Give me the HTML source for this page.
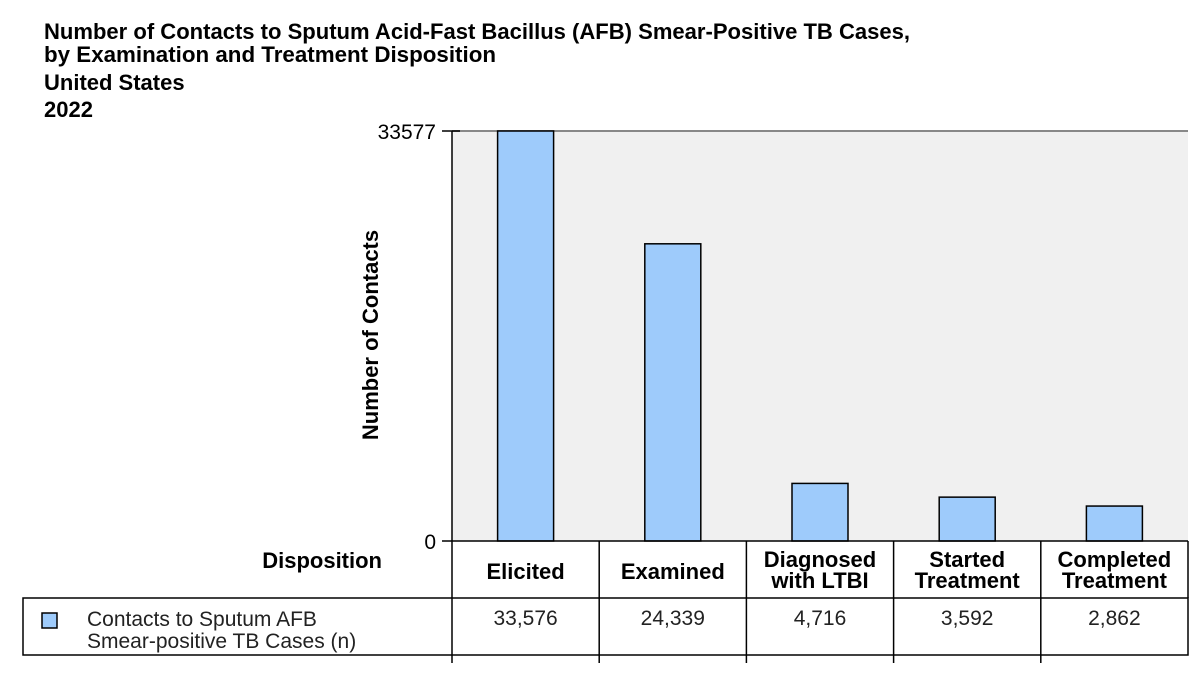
<!DOCTYPE html>
<html><head><meta charset="utf-8"><style>
body{margin:0;background:#fff;font-family:"Liberation Sans",sans-serif;}
svg text{font-family:"Liberation Sans",sans-serif;}
</style></head><body>
<svg width="1200" height="675" viewBox="0 0 1200 675">
<g font-weight="bold" font-size="22" fill="#000">
<text x="44" y="39" textLength="866" lengthAdjust="spacingAndGlyphs">Number of Contacts to Sputum Acid-Fast Bacillus (AFB) Smear-Positive TB Cases,</text>
<text x="44" y="62" textLength="452" lengthAdjust="spacingAndGlyphs">by Examination and Treatment Disposition</text>
<text x="44" y="90">United States</text>
<text x="44" y="117">2022</text>
</g>
<rect x="452" y="131" width="736" height="410" fill="#f0f0f0"/>
<line x1="452" y1="131" x2="1188" y2="131" stroke="#888" stroke-width="2"/>
<g id="bars"></g>
<line x1="452" y1="131" x2="452" y2="663" stroke="#000" stroke-width="1.5"/>
<line x1="442" y1="131" x2="460" y2="131" stroke="#000" stroke-width="1.5"/>
<line x1="442" y1="541" x2="452" y2="541" stroke="#000" stroke-width="1.5"/>
<text x="436" y="139" text-anchor="end" font-size="21">33577</text>
<text x="436" y="549" text-anchor="end" font-size="21">0</text>
<text transform="translate(378,335) rotate(-90)" text-anchor="middle" font-size="22" font-weight="bold">Number of Contacts</text>
<text x="382" y="568" text-anchor="end" font-size="22" font-weight="bold">Disposition</text>
<g id="table">
<line x1="452" y1="541" x2="1188" y2="541" stroke="#000" stroke-width="1.5"/>
<rect x="23" y="598" width="1165" height="57" fill="none" stroke="#000" stroke-width="1.5"/>
<line x1="1188" y1="541" x2="1188" y2="598" stroke="#000" stroke-width="1.5"/>
<rect x="42" y="613" width="15" height="15" fill="#9ecbfb" stroke="#000" stroke-width="1.5"/>
<text x="87" y="626" font-size="21" fill="#222">Contacts to Sputum AFB</text>
<text x="87" y="648" font-size="21" fill="#222">Smear-positive TB Cases (n)</text>
</g>
</svg>
<script>
const categories=["Elicited","Examined","Diagnosed with LTBI","Started Treatment","Completed Treatment"];
const catLines=[["Elicited"],["Examined"],["Diagnosed","with LTBI"],["Started","Treatment"],["Completed","Treatment"]];
const values=[33576,24339,4716,3592,2862];
const valueLabels=["33,576","24,339","4,716","3,592","2,862"];
const yMax=33577;
const NS="http://www.w3.org/2000/svg";
const x0=452,x1=1188,y0=541,yT=131;
const bw=(x1-x0)/categories.length;
function yScale(v){return y0-(v/yMax)*(y0-yT);}
function xCenter(i){return x0+bw*(i+0.5);}
const g=document.getElementById('bars');
const t=document.getElementById('table');
values.forEach((v,i)=>{
  const r=document.createElementNS(NS,'rect');
  
  
  r.setAttribute('x',xCenter(i)-28);r.setAttribute('width',56);
  r.setAttribute('y',yScale(v));r.setAttribute('height',y0-yScale(v));
  r.setAttribute('fill','#9ecbfb');r.setAttribute('stroke','#000');r.setAttribute('stroke-width','1.5');
  g.appendChild(r);
  if(i>0){const l=document.createElementNS(NS,'line');
    
    
    l.setAttribute('x1',x0+bw*i);l.setAttribute('x2',x0+bw*i);l.setAttribute('y1',541);l.setAttribute('y2',663);
    l.setAttribute('stroke','#000');l.setAttribute('stroke-width','1.5');t.appendChild(l);}
  const lines=catLines[i];
  lines.forEach((s,j)=>{
    const tx=document.createElementNS(NS,'text');
    
    
    tx.setAttribute('x',xCenter(i));
    tx.setAttribute('y',lines.length==1?579:567+j*21);
    tx.setAttribute('text-anchor','middle');tx.setAttribute('font-size','22');tx.setAttribute('font-weight','bold');
    tx.textContent=s;t.appendChild(tx);
  });
  const vt=document.createElementNS(NS,'text');
  
  
  vt.setAttribute('x',xCenter(i));vt.setAttribute('y',625);
  vt.setAttribute('text-anchor','middle');vt.setAttribute('font-size','21');vt.setAttribute('fill','#222');
  vt.textContent=valueLabels[i];t.appendChild(vt);
});
</script>
</body></html>
